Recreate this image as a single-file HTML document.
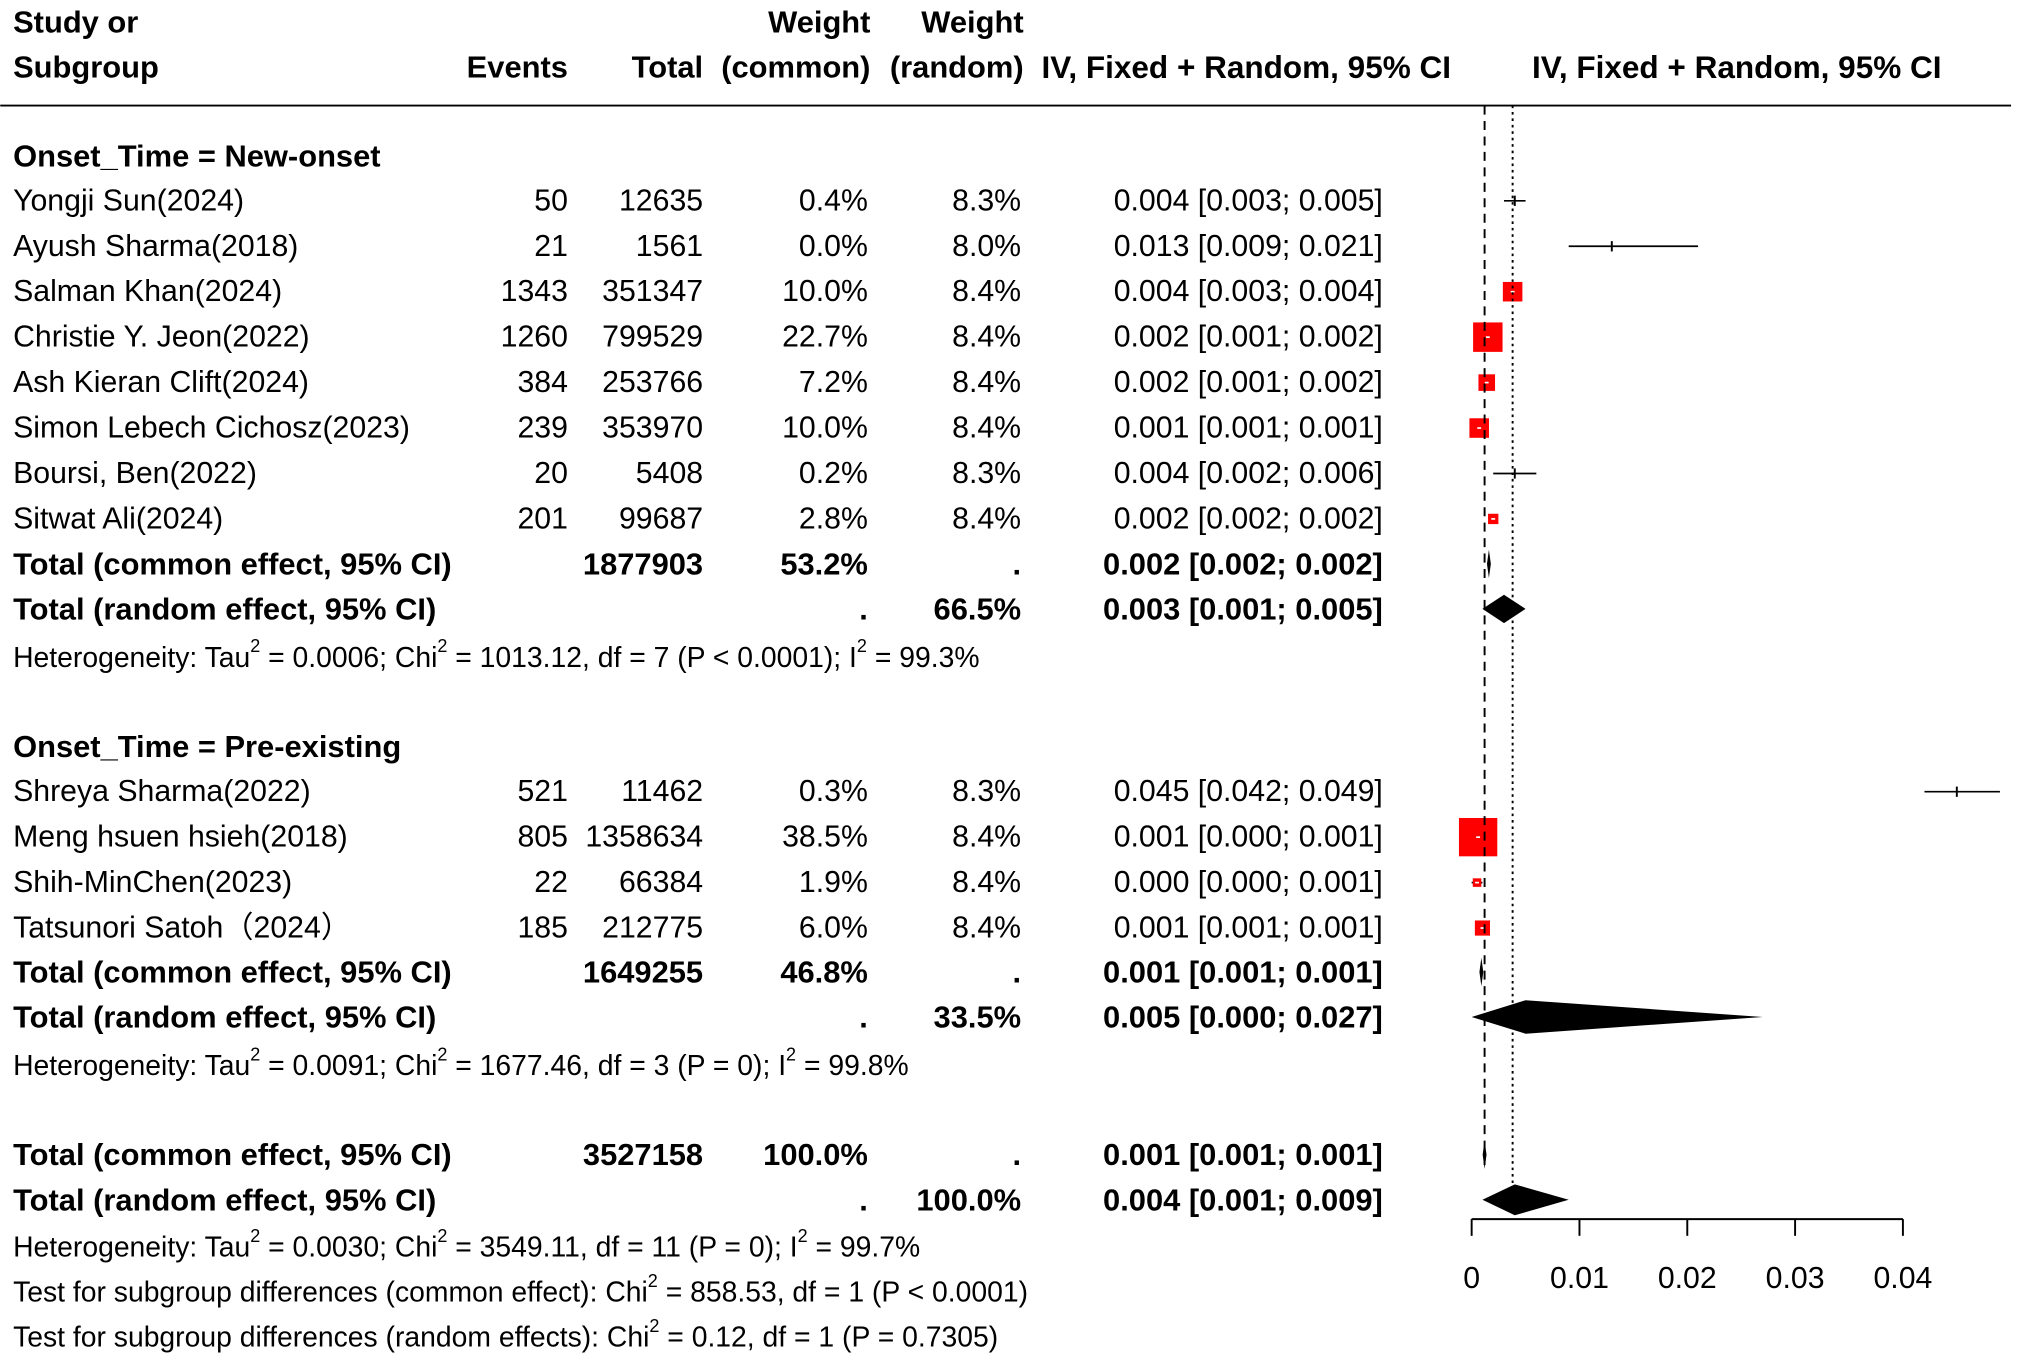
<!DOCTYPE html>
<html><head><meta charset="utf-8"><style>
html,body{margin:0;padding:0;background:#fff;}
svg{display:block;}
text{font-family:"Liberation Sans",Arial,sans-serif;fill:#000;}
</style></head><body>
<svg id="chart" width="2019" height="1362" viewBox="0 0 1568 1058" xmlns="http://www.w3.org/2000/svg">
<g id="txt"></g>
<g id="plot"></g>
</svg>
<script>
// ---- data ----
const studies1 = ["Yongji Sun(2024)","Ayush Sharma(2018)","Salman Khan(2024)","Christie Y. Jeon(2022)","Ash Kieran Clift(2024)","Simon Lebech Cichosz(2023)","Boursi, Ben(2022)","Sitwat Ali(2024)"];
const events1 = [50,21,1343,1260,384,239,20,201];
const totals1 = [12635,1561,351347,799529,253766,353970,5408,99687];
const wCommon1 = [0.4,0.0,10.0,22.7,7.2,10.0,0.2,2.8];
const wRandom1 = [8.3,8.0,8.4,8.4,8.4,8.4,8.3,8.4];
const est1 = [0.004,0.013,0.0038,0.0015,0.0014,0.0007,0.004,0.002];
const lo1 = [0.003,0.009,0.003,0.001,0.001,0.001,0.002,0.002];
const hi1 = [0.005,0.021,0.004,0.002,0.002,0.001,0.006,0.002];
const ciText1 = ["0.004 [0.003; 0.005]","0.013 [0.009; 0.021]","0.004 [0.003; 0.004]","0.002 [0.001; 0.002]","0.002 [0.001; 0.002]","0.001 [0.001; 0.001]","0.004 [0.002; 0.006]","0.002 [0.002; 0.002]"];
const studies2 = ["Shreya Sharma(2022)","Meng hsuen hsieh(2018)","Shih-MinChen(2023)","Tatsunori Satoh（2024）"];
const events2 = [521,805,22,185];
const totals2 = [11462,1358634,66384,212775];
const wCommon2 = [0.3,38.5,1.9,6.0];
const wRandom2 = [8.3,8.4,8.4,8.4];
const est2 = [0.045,0.0006,0.0005,0.001];
const lo2 = [0.042,0.000,0.000,0.001];
const hi2 = [0.049,0.001,0.001,0.001];
const ciText2 = ["0.045 [0.042; 0.049]","0.001 [0.000; 0.001]","0.000 [0.000; 0.001]","0.001 [0.001; 0.001]"];
const sum1Common = [0.0016,0.0015,0.0017];
const sum1Random = [0.003,0.001,0.005];
const sum2Common = [0.0009,0.0008,0.001];
const sum2Random = [0.005,0.000,0.027];
const allCommon = [0.0012,0.0011,0.0013];
const allRandom = [0.004,0.001,0.009];
const refCommon = 0.0012;
const refRandom = 0.0038;
const xTicks = [0,0.01,0.02,0.03,0.04];
const xTickLabels = ["0","0.01","0.02","0.03","0.04"];

// ---- helpers ----
const NS="http://www.w3.org/2000/svg";
const T=document.getElementById('txt'), P=document.getElementById('plot');
const X0=1143, X1=1478, D0=0, D1=0.04;
const FS=23.5, FB=24;
function xs(v){return X0+(v-D0)/(D1-D0)*(X1-X0);}
function el(tag,attrs,parent){const e=document.createElementNS(NS,tag);for(const k in attrs)e.setAttribute(k,attrs[k]);parent.appendChild(e);return e;}
function tx(str,x,y,opt){opt=opt||{};const e=el('text',{x:x,y:y,'font-size':opt.size||(opt.bold?FB:FS),'text-anchor':opt.anchor||'start','font-weight':opt.bold?'bold':'normal','dominant-baseline':'central'},T);e.textContent=str;return e;}
function txSup(parts,x,y){
  const e=el('text',{x:x,y:y,'font-size':22,'dominant-baseline':'central'},T);
  let back=0;
  parts.forEach(p=>{
    if(p==='^'){const s=el('tspan',{'font-size':14,dy:-9},e);s.textContent='2';back=9;}
    else{const s=el('tspan',{dy:back},e);s.textContent=p;back=0;}
  });
  return e;
}
function fmtW(w){return w.toFixed(1)+'%';}

let h;
h=tx("Study or",10,17,{bold:1});
h=tx("Subgroup",10,52,{bold:1});
h=tx("Events",441,52,{bold:1,anchor:'end'});
h=tx("Total",546,52,{bold:1,anchor:'end'});
h=tx("Weight",676,17,{bold:1,anchor:'end'});
h=tx("(common)",676,52,{bold:1,anchor:'end'});
h=tx("Weight",795,17,{bold:1,anchor:'end'});
h=tx("(random)",795,52,{bold:1,anchor:'end'});
h=tx("IV, Fixed + Random, 95% CI",1127,52,{bold:1,anchor:'end',size:24.5});
h=tx("IV, Fixed + Random, 95% CI",1508,52,{bold:1,anchor:'end',size:24.5});
const hl=el('line',{x1:0,y1:82,x2:1562,y2:82,stroke:'#000','stroke-width':1.5},T);



function studyRows(names,ev,tot,wc,wr,est,lo,hi,ci,y0){
  names.forEach((n,i)=>{
    const y=y0+i*35.3;
    let t=tx(n,10,y);
    t=tx(String(ev[i]),441,y,{anchor:'end'});
    t=tx(String(tot[i]),546,y,{anchor:'end'});
    t=tx(fmtW(wc[i]),674,y,{anchor:'end'});
    t=tx(fmtW(wr[i]),793,y,{anchor:'end'});
    t=tx(ci[i],1074,y,{anchor:'end'});
    const ln=el('line',{x1:Math.max(xs(lo[i]),0),y1:y,x2:Math.min(xs(hi[i]),1562),y2:y,stroke:'#000','stroke-width':1.3},P);
    
    
    const s=4.8*Math.sqrt(wc[i]);
    if(s>4){
      const b=el('rect',{x:xs(est[i])-s/2,y:y-s/2,width:s,height:s,fill:'#ff0000'},P);
      
      
      const m=el('line',{x1:xs(est[i])-1.5,y1:y,x2:xs(est[i])+1.5,y2:y,stroke:'#fff','stroke-width':1.3},P);
      
      
    } else {
      const m=el('line',{x1:xs(est[i]),y1:y-4,x2:xs(est[i]),y2:y+4,stroke:'#000','stroke-width':1.5},P);
      
      
    }
  });
}
function summaryRow(label,total,wc,wr,ci,vals,y,h){
  let t=tx(label,10,y,{bold:1});
  t=tx(total,546,y,{bold:1,anchor:'end'});
  t=tx(wc,674,y,{bold:1,anchor:'end'});
  t=tx(wr,793,y,{bold:1,anchor:'end'});
  t=tx(ci,1074,y,{bold:1,anchor:'end'});
  let l=xs(vals[1]),r=xs(vals[2]),c=xs(vals[0]);
  if(r-l<3){l=c-1.5;r=c+1.5;}
  const d=el('polygon',{points:`${l},${y} ${c},${y-h} ${r},${y} ${c},${y+h}`,fill:'#000'},P);
  
  
}

h=tx("Onset_Time = New-onset",10,121,{bold:1});
studyRows(studies1,events1,totals1,wCommon1,wRandom1,est1,lo1,hi1,ciText1,156);
summaryRow("Total (common effect, 95% CI)","1877903","53.2%",".","0.002 [0.002; 0.002]",sum1Common,438,11);
summaryRow("Total (random effect, 95% CI)","",".","66.5%","0.003 [0.001; 0.005]",sum1Random,473,11);
h=txSup(["Heterogeneity: Tau","^"," = 0.0006; Chi","^"," = 1013.12, df = 7 (P < 0.0001); I","^"," = 99.3%"],10,511);

h=tx("Onset_Time = Pre-existing",10,580,{bold:1});
studyRows(studies2,events2,totals2,wCommon2,wRandom2,est2,lo2,hi2,ciText2,615);
summaryRow("Total (common effect, 95% CI)","1649255","46.8%",".","0.001 [0.001; 0.001]",sum2Common,755,11);
summaryRow("Total (random effect, 95% CI)","",".","33.5%","0.005 [0.000; 0.027]",sum2Random,790,13);
h=txSup(["Heterogeneity: Tau","^"," = 0.0091; Chi","^"," = 1677.46, df = 3 (P = 0); I","^"," = 99.8%"],10,828);

summaryRow("Total (common effect, 95% CI)","3527158","100.0%",".","0.001 [0.001; 0.001]",allCommon,897,11);
summaryRow("Total (random effect, 95% CI)","",".","100.0%","0.004 [0.001; 0.009]",allRandom,932,12);
h=txSup(["Heterogeneity: Tau","^"," = 0.0030; Chi","^"," = 3549.11, df = 11 (P = 0); I","^"," = 99.7%"],10,969);
h=txSup(["Test for subgroup differences (common effect): Chi","^"," = 858.53, df = 1 (P < 0.0001)"],10,1004);
h=txSup(["Test for subgroup differences (random effects): Chi","^"," = 0.12, df = 1 (P = 0.7305)"],10,1039);

let rl=el('line',{x1:xs(refCommon),y1:82,x2:xs(refCommon),y2:905,stroke:'#000','stroke-width':1.5,'stroke-dasharray':'7,5'},P);


rl=el('line',{x1:xs(refRandom),y1:82,x2:xs(refRandom),y2:940,stroke:'#000','stroke-width':1.5,'stroke-dasharray':'2,3'},P);



const ax=el('line',{x1:xs(xTicks[0]),y1:947,x2:xs(xTicks[xTicks.length-1]),y2:947,stroke:'#000','stroke-width':1.5},P);


xTicks.forEach((v,i)=>{
  const tk=el('line',{x1:xs(v),y1:947,x2:xs(v),y2:960,stroke:'#000','stroke-width':1.5},P);
  
  
  const lb=tx(xTickLabels[i],xs(v),993,{anchor:'middle'});
  
  
});
</script>
</body></html>
